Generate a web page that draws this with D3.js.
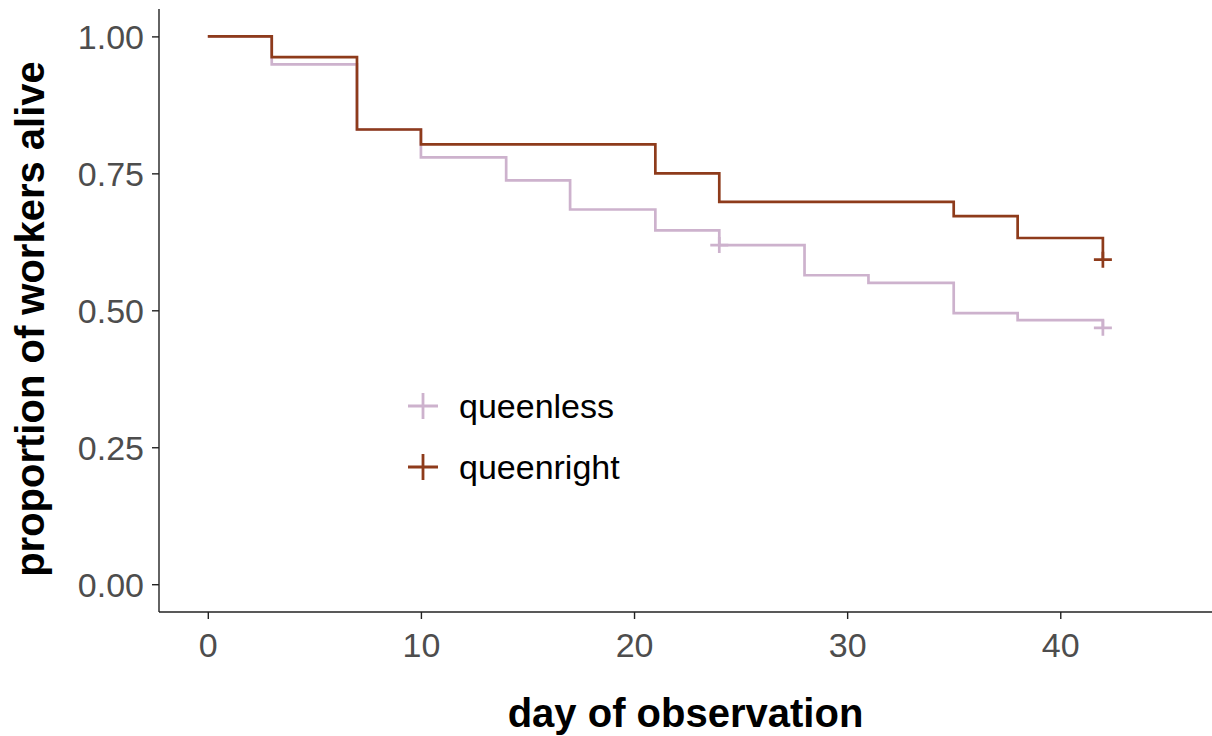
<!DOCTYPE html>
<html>
<head>
<meta charset="utf-8">
<script src="https://cdn.jsdelivr.net/npm/d3@7"></script>
<style>
  html, body { margin: 0; padding: 0; background: #fff; }
  svg { display: block; font-family: "Liberation Sans", Arial, Helvetica, sans-serif; }
</style>
</head>
<body>
<svg id="chart" width="1212" height="736"></svg>
<script>
// ---- data ----
const groups = ["queenless", "queenright"];
const queenlessDays = [0, 3, 7, 10, 14, 17, 21, 24, 28, 31, 35, 38, 42];
const queenlessSurv = [1.000, 0.949, 0.830, 0.779, 0.737, 0.684, 0.646, 0.619, 0.564, 0.550, 0.495, 0.482, 0.468];
const queenlessCensorDays = [24, 42];
const queenlessCensorSurv = [0.619, 0.468];
const queenrightDays = [0, 3, 7, 10, 21, 24, 35, 38, 42];
const queenrightSurv = [1.000, 0.962, 0.830, 0.803, 0.750, 0.698, 0.672, 0.632, 0.5925];
const queenrightCensorDays = [42];
const queenrightCensorSurv = [0.5925];
const xTicks = [0, 10, 20, 30, 40];
const yTicks = [0, 0.25, 0.5, 0.75, 1];
const colors = ["#cdb2cd", "#8e3b1b"];

// ---- layout ----
const svg = d3.select("#chart");
const pLeft = 159, pRight = 1212, pTop = 9, pBottom = 612;
const x = d3.scaleLinear().domain([-2.29, 47.12]).range([pLeft, pRight]);
const y = d3.scaleLinear().domain([-0.05, 1.05]).range([pBottom - 0.4, pTop]);

const series = [
  { name: groups[0], days: queenlessDays, surv: queenlessSurv, cd: queenlessCensorDays, cs: queenlessCensorSurv, color: colors[0] },
  { name: groups[1], days: queenrightDays, surv: queenrightSurv, cd: queenrightCensorDays, cs: queenrightCensorSurv, color: colors[1] }
];

const line = d3.line().x(d => x(d[0])).y(d => y(d[1])).curve(d3.curveStepAfter);

series.forEach(s => {
  const pts = s.days.map((d, i) => [d, s.surv[i]]);
  svg.append("path")
    .attr("d", line(pts))
    .attr("fill", "none")
    .attr("stroke", s.color)
    .attr("stroke-width", 2.7);
  const cens = s.cd.map((d, i) => [d, s.cs[i]]);
  svg.selectAll(null).data(cens).enter().append("path")
    .attr("d", d => {
      const cx = x(d[0]), cy = y(d[1]), h = 9, v = 8;
      return `M${cx - h},${cy}H${cx + h}M${cx},${cy - v}V${cy + v}`;
    })
    .attr("stroke", s.color)
    .attr("stroke-width", 2.7)
    .attr("fill", "none");
});

// ---- axes ----
const axisColor = "#222";
const xAxis = svg.append("g").attr("transform", `translate(0,${pBottom})`)
  .call(d3.axisBottom(x).tickValues(xTicks).tickSize(7).tickPadding(14).tickFormat(d3.format("d")));
const yAxis = svg.append("g").attr("transform", `translate(${pLeft},0)`)
  .call(d3.axisLeft(y).tickValues(yTicks).tickSize(7).tickPadding(8).tickFormat(d3.format(".2f")));
[xAxis, yAxis].forEach(g => {
  g.select(".domain").attr("stroke", axisColor).attr("stroke-width", 1.4);
  g.selectAll(".tick line").attr("stroke", axisColor).attr("stroke-width", 1.4);
  g.selectAll(".tick text").attr("fill", "#4d4d4d").attr("font-size", 34)
    .attr("font-family", "'Liberation Sans', Arial, sans-serif");
});
yAxis.selectAll(".tick text").attr("dy", "0.36em");
xAxis.select(".domain").attr("d", `M${pLeft},0H${pRight}`);
yAxis.select(".domain").attr("d", `M0,${pTop}V${pBottom}`);

// ---- titles ----
svg.append("text")
  .attr("x", (pLeft + pRight) / 2).attr("y", 727)
  .attr("text-anchor", "middle").attr("font-size", 40).attr("font-weight", "bold").attr("fill", "#000")
  .text("day of observation");
svg.append("text")
  .attr("transform", `translate(44,319) rotate(-90)`)
  .attr("text-anchor", "middle").attr("font-size", 40).attr("font-weight", "bold").attr("fill", "#000")
  .text("proportion of workers alive");

// ---- legend ----
const legend = svg.append("g");
series.forEach((s, i) => {
  const cy = 406 + i * 61, cx = 423;
  legend.append("path")
    .attr("d", `M${cx - 15},${cy}H${cx + 15}M${cx},${cy - 13}V${cy + 13}`)
    .attr("stroke", s.color).attr("stroke-width", 2.8).attr("fill", "none");
  legend.append("text")
    .attr("x", 459).attr("y", cy).attr("dy", "0.36em")
    .attr("font-size", 34).attr("fill", "#000")
    .text(s.name);
});
</script>
</body>
</html>
